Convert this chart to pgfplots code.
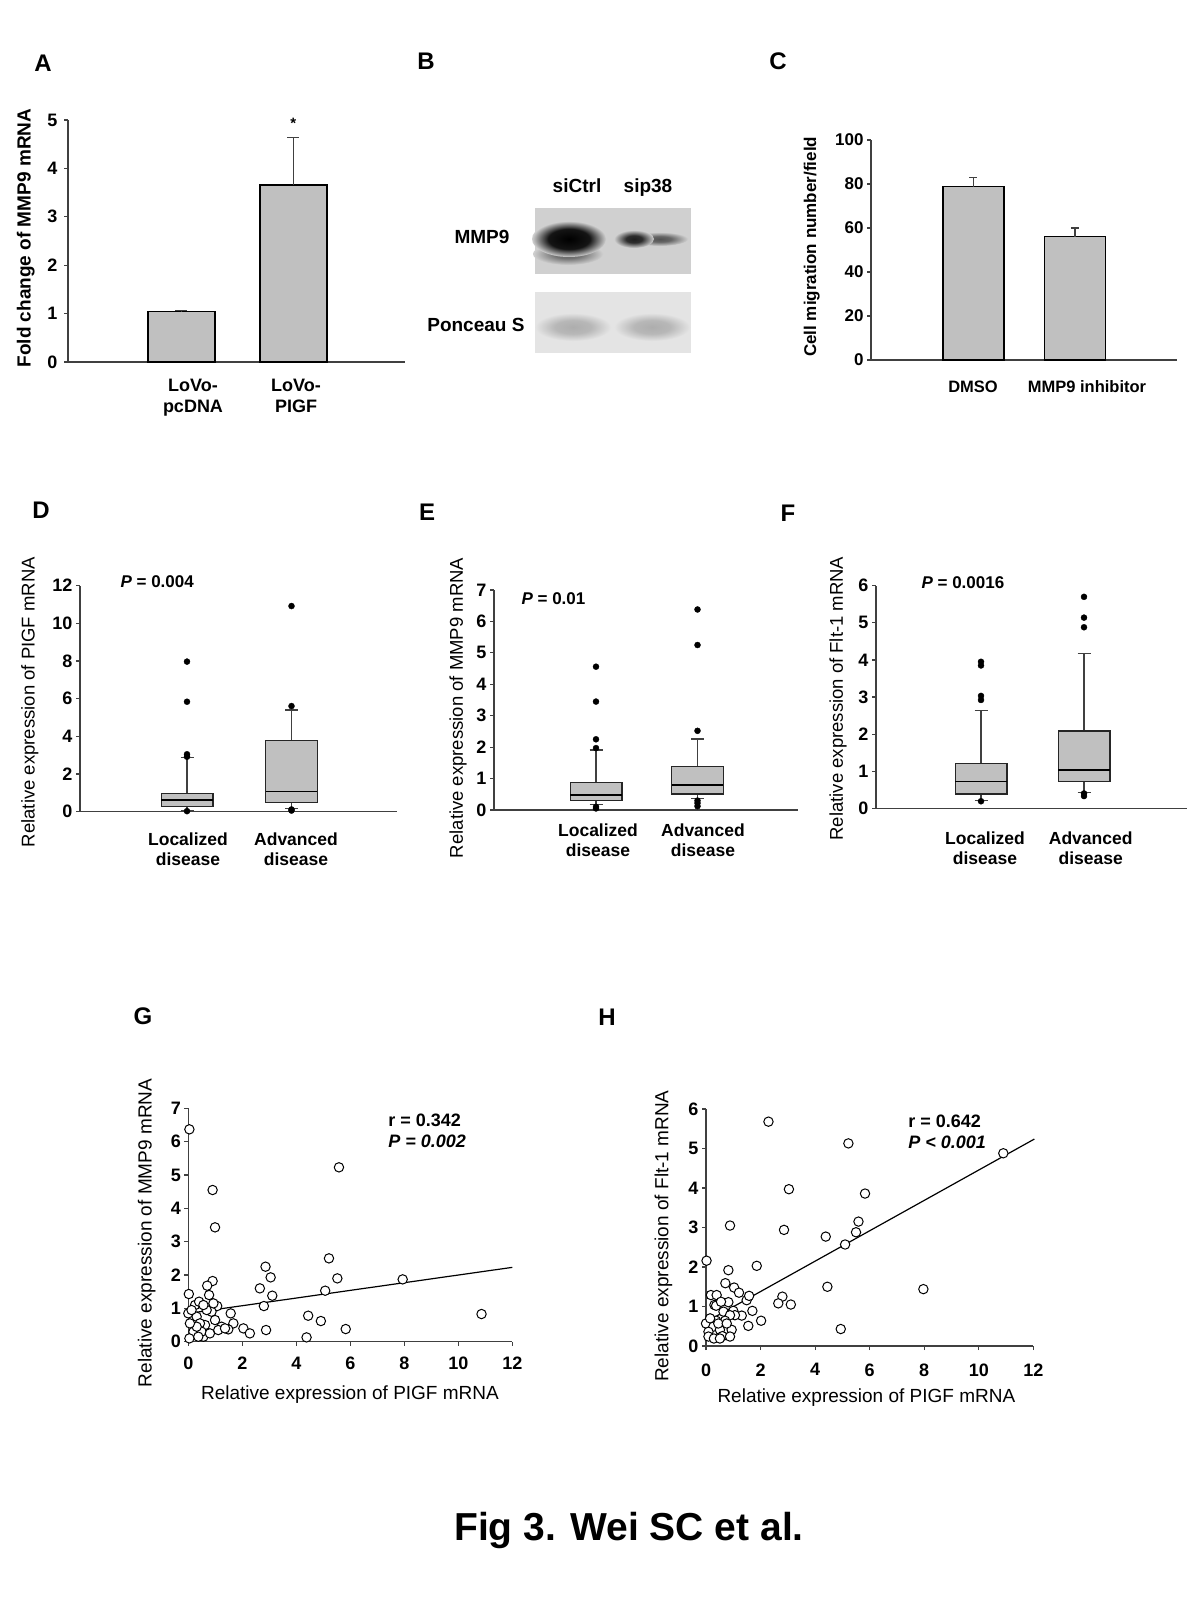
\documentclass[border=0pt]{standalone}
\usepackage{fontspec}
\setmainfont{Liberation Sans}
\usepackage{pgfplots}
\pgfplotsset{compat=1.18}
\definecolor{axisgray}{HTML}{404040}
\definecolor{bargray}{HTML}{C0C0C0}
\definecolor{blotbg}{HTML}{D0D0D0}
\definecolor{ponbg}{HTML}{E4E4E4}
\pgfdeclareradialshading{bandmain}{\pgfpoint{0bp}{0bp}}{color(0bp)=(black); color(14bp)=(black!92); color(25bp)=(blotbg); color(50bp)=(blotbg)}
\pgfdeclareradialshading{bandsmear}{\pgfpoint{0bp}{0bp}}{color(0bp)=(black!62); color(10bp)=(black!55); color(25bp)=(blotbg); color(50bp)=(blotbg)}
\pgfdeclareradialshading{bandright}{\pgfpoint{0bp}{0bp}}{color(0bp)=(black!88); color(10bp)=(black!82); color(25bp)=(blotbg); color(50bp)=(blotbg)}
\pgfdeclareradialshading{bandfade}{\pgfpoint{0bp}{0bp}}{color(0bp)=(black!68); color(10bp)=(black!60); color(25bp)=(blotbg); color(50bp)=(blotbg)}
\pgfdeclareradialshading{bandpon}{\pgfpoint{0bp}{0bp}}{color(0bp)=(black!32); color(12bp)=(black!28); color(25bp)=(ponbg); color(50bp)=(ponbg)}
\newcommand{\fs}[2]{\fontsize{#1}{#2}\selectfont}
\pgfplotsset{
  mystyle/.style={
    scale only axis, anchor=south west, clip=false,
    axis lines=left, axis line style={-, draw=axisgray, line width=1.3pt},
    tick align=outside, major tick length=4pt,
    tick style={draw=axisgray, line width=1.2pt},
    /pgf/number format/assume math mode=true,
    ticklabel style={font=\bfseries\fs{18}{20}},
  },
  catx/.style={x tick style={draw=none}, xticklabel style={align=center, font=\bfseries\fs{17.5}{20}}},
  wh/.style={draw=axisgray, line width=1.2pt},
  bx/.style={draw=black!85, fill=bargray, line width=1.3pt},
  md/.style={draw=black, line width=1.3pt},
  out/.style={only marks, mark=*, mark size=3pt, mark options={fill=black, draw=black}},
}
\begin{document}
\begin{tikzpicture}
\path[use as bounding box] (0pt,0pt) rectangle (1200pt,-1600pt);

% panel letters
\foreach \L/\X/\Y in {A/43/63, B/426/61.5, C/778/61.5, D/41/510, E/427/512, F/788/513, G/143/1016.5, H/607/1017}
  \node[font=\bfseries\fs{24}{26}, inner sep=0pt] at (\X pt,-\Y pt) {\L};

% ---------- A ----------
\begin{axis}[mystyle, catx, at={(68pt,-362pt)}, width=337pt, height=242pt,
  xmin=0, xmax=337, ymin=0, ymax=5, ytick={0,1,...,5},
  yticklabel style={font=\bfseries\fs{18}{20}, xshift=-3pt},
  xtick={125,228}, xticklabels={{LoVo-\\pcDNA},{LoVo-\\PIGF}},
  xticklabel style={font=\bfseries\fs{18}{21}, yshift=-10pt},
  ylabel={Fold change of MMP9 mRNA},
  ylabel style={at={(axis description cs:-0.125,0.512)}, anchor=center, font=\bfseries\fs{19}{21}}]
\addplot[ybar, bar width=67pt, fill=bargray, draw=black, line width=1.5pt,
  error bars/.cd, y dir=plus, y explicit, error mark=-,
  error bar style={line width=1.3pt, draw=axisgray},
  error mark options={rotate=90, mark size=6pt, line width=1.3pt, draw=axisgray}]
  coordinates {(113.3,1.04) +- (0,0.02) (225.3,3.66) +- (0,0.98)};
\node[font=\bfseries\fs{15}{16}] at (axis cs:225.3,4.93) {*};
\end{axis}

% ---------- B ----------
\fill[blotbg] (535pt,-208pt) rectangle (691pt,-274pt);
\shade[shading=bandsmear] (568pt,-254pt) ellipse (35pt and 11pt);
\shade[shading=bandmain] (569pt,-239pt) ellipse (37pt and 18pt);
\shade[shading=bandfade] (660pt,-239pt) ellipse (28pt and 7pt);
\shade[shading=bandright] (634pt,-239pt) ellipse (20pt and 9pt);
\fill[ponbg] (535pt,-292pt) rectangle (691pt,-353pt);
\shade[shading=bandpon] (573pt,-327pt) ellipse (38pt and 14pt);
\shade[shading=bandpon] (652pt,-327pt) ellipse (38pt and 14pt);
\node[anchor=east, font=\bfseries\fs{19}{21}] at (513pt,-237pt) {MMP9};
\node[anchor=east, font=\bfseries\fs{19}{21}] at (528pt,-325pt) {Ponceau S};
\node[anchor=base, font=\bfseries\fs{19}{21}] at (577pt,-192pt) {siCtrl};
\node[anchor=base, font=\bfseries\fs{19}{21}] at (648pt,-192pt) {sip38};

% ---------- C ----------
\begin{axis}[mystyle, catx, at={(871pt,-360pt)}, width=306pt, height=220pt,
  xmin=0, xmax=306, ymin=0, ymax=100, ytick={0,20,...,100},
  yticklabel style={font=\bfseries\fs{17}{19}},
  xtick={102,216}, xticklabels={DMSO,MMP9 inhibitor},
  xticklabel style={font=\bfseries\fs{16.5}{18}, yshift=-13pt},
  ylabel={Cell migration number/field},
  ylabel style={at={(axis description cs:-0.194,0.514)}, anchor=center, font=\bfseries\fs{17}{19}}]
\addplot[ybar, bar width=61pt, fill=bargray, draw=black, line width=1.5pt,
  error bars/.cd, y dir=plus, y explicit, error mark=-,
  error bar style={line width=1.3pt, draw=axisgray},
  error mark options={rotate=90, mark size=4pt, line width=1.3pt, draw=axisgray}]
  coordinates {(102.3,78.8) +- (0,4.1) (203.9,56.1) +- (0,3.9)};
\end{axis}

% ---------- D ----------
\begin{axis}[mystyle, catx, at={(80pt,-811.7pt)}, width=316.7pt, height=226pt,
  xmin=0, xmax=316.7, ymin=0, ymax=12, ytick={0,2,...,12},
  xtick={108,216}, xticklabels={{Localized\\disease},{Advanced\\disease}},
  xticklabel style={yshift=-14pt},
  ylabel={Relative expression of PIGF mRNA},
  ylabel style={at={(axis description cs:-0.158,0.485)}, anchor=center, font=\fs{18.5}{20}}]
% localized
\addplot[wh] coordinates {(107,0.98) (107,2.89)};
\addplot[wh] coordinates {(100.5,2.89) (113.5,2.89)};
\addplot[wh] coordinates {(107,0.27) (107,0.08)};
\addplot[wh] coordinates {(100.5,0.08) (113.5,0.08)};
\addplot[bx] coordinates {(81.15,0.27) (132.85,0.27) (132.85,0.98) (81.15,0.98)} -- cycle;
\addplot[md] coordinates {(81.15,0.62) (132.85,0.62)};
\addplot[out] coordinates {(107,7.97) (107,5.84) (107,3.05) (107,2.92) (107,0.03)};
% advanced
\addplot[wh] coordinates {(211.5,3.77) (211.5,5.4)};
\addplot[wh] coordinates {(205,5.4) (218,5.4)};
\addplot[wh] coordinates {(211.5,0.5) (211.5,0.15)};
\addplot[wh] coordinates {(205,0.15) (218,0.15)};
\addplot[bx] coordinates {(185.65,0.5) (237.35,0.5) (237.35,3.77) (185.65,3.77)} -- cycle;
\addplot[md] coordinates {(185.65,1.06) (237.35,1.06)};
\addplot[out] coordinates {(211.5,10.92) (211.5,5.61) (211.5,0.12) (211.5,0.06)};
\node[anchor=west, font=\bfseries\fs{17}{19}] at (axis cs:37,12.21) {\textit{P} = 0.004};
\end{axis}

% ---------- E ----------
\begin{axis}[mystyle, catx, at={(494pt,-810pt)}, width=304pt, height=220pt,
  xmin=0, xmax=304, ymin=0, ymax=7, ytick={0,1,...,7},
  xtick={104,209}, xticklabels={{Localized\\disease},{Advanced\\disease}},
  xticklabel style={yshift=-6pt},
  ylabel={Relative expression of MMP9 mRNA},
  ylabel style={at={(axis description cs:-0.118,0.464)}, anchor=center, font=\fs{18.5}{20}}]
\addplot[wh] coordinates {(102,0.87) (102,1.91)};
\addplot[wh] coordinates {(95.5,1.91) (108.5,1.91)};
\addplot[wh] coordinates {(102,0.3) (102,0.18)};
\addplot[wh] coordinates {(95.5,0.18) (108.5,0.18)};
\addplot[bx] coordinates {(76.15,0.3) (127.85,0.3) (127.85,0.87) (76.15,0.87)} -- cycle;
\addplot[md] coordinates {(76.15,0.48) (127.85,0.48)};
\addplot[out] coordinates {(102,4.56) (102,3.45) (102,2.25) (102,1.97) (102,0.1) (102,0.05)};
\addplot[wh] coordinates {(203.5,1.38) (203.5,2.26)};
\addplot[wh] coordinates {(197,2.26) (210,2.26)};
\addplot[wh] coordinates {(203.5,0.51) (203.5,0.37)};
\addplot[wh] coordinates {(197,0.37) (210,0.37)};
\addplot[bx] coordinates {(177.65,0.51) (229.35,0.51) (229.35,1.38) (177.65,1.38)} -- cycle;
\addplot[md] coordinates {(177.65,0.8) (229.35,0.8)};
\addplot[out] coordinates {(203.5,6.38) (203.5,5.25) (203.5,2.52) (203.5,0.3) (203.5,0.22) (203.5,0.12)};
\node[anchor=west, font=\bfseries\fs{17}{19}] at (axis cs:24,6.71) {\textit{P} = 0.01};
\end{axis}

% ---------- F ----------
\begin{axis}[mystyle, catx, at={(876pt,-808.3pt)}, width=310.7pt, height=222.6pt,
  xmin=0, xmax=310.7, ymin=0, ymax=6, ytick={0,1,...,6},
  xtick={109,214.7}, xticklabels={{Localized\\disease},{Advanced\\disease}},
  xticklabel style={yshift=-16pt},
  ylabel={Relative expression of Flt-1 mRNA},
  ylabel style={at={(axis description cs:-0.122,0.493)}, anchor=center, font=\fs{18.5}{20}}]
\addplot[wh] coordinates {(105,1.21) (105,2.63)};
\addplot[wh] coordinates {(98.5,2.63) (111.5,2.63)};
\addplot[wh] coordinates {(105,0.385) (105,0.2)};
\addplot[wh] coordinates {(98.5,0.2) (111.5,0.2)};
\addplot[bx] coordinates {(79.15,0.385) (130.85,0.385) (130.85,1.21) (79.15,1.21)} -- cycle;
\addplot[md] coordinates {(79.15,0.72) (130.85,0.72)};
\addplot[out] coordinates {(105,3.95) (105,3.85) (105,3.03) (105,2.92) (105,0.19)};
\addplot[wh] coordinates {(208,2.08) (208,4.18)};
\addplot[wh] coordinates {(201.5,4.18) (214.5,4.18)};
\addplot[wh] coordinates {(208,0.72) (208,0.42)};
\addplot[wh] coordinates {(201.5,0.42) (214.5,0.42)};
\addplot[bx] coordinates {(182.15,0.72) (233.85,0.72) (233.85,2.08) (182.15,2.08)} -- cycle;
\addplot[md] coordinates {(182.15,1.03) (233.85,1.03)};
\addplot[out] coordinates {(208,5.7) (208,5.14) (208,4.88) (208,0.4) (208,0.33)};
\node[anchor=west, font=\bfseries\fs{17}{19}] at (axis cs:42,6.08) {\textit{P} = 0.0016};
\end{axis}

% ---------- G ----------
\begin{axis}[mystyle, at={(188.3pt,-1341.7pt)}, width=324pt, height=233.4pt,
  xmin=0, xmax=12, ymin=0, ymax=7, xtick={0,2,...,12}, ytick={0,1,...,7},
  ticklabel style={font=\bfseries\fs{18}{20}},
  xticklabel style={yshift=-8pt},
  xlabel={Relative expression of PIGF mRNA},
  xlabel style={at={(axis description cs:0.499,-0.228)}, anchor=center, font=\fs{19}{21}},
  ylabel={Relative expression of MMP9 mRNA},
  ylabel style={at={(axis description cs:-0.128,0.466)}, anchor=center, font=\fs{19}{21}}]
\addplot[black, line width=1.2pt] coordinates {(0,0.85) (12,2.23)};
\addplot[only marks, mark=*, mark size=4.7pt, mark options={fill=white, draw=black, line width=1pt}] coordinates {
(0.04,6.37) (0.9,4.55) (0.99,3.43) (5.58,5.23) (5.21,2.5) (5.52,1.9) (5.07,1.53) (7.94,1.87)
(10.86,0.83) (4.44,0.78) (4.91,0.62) (4.38,0.13) (5.83,0.38) (2.86,2.25) (3.05,1.93) (2.65,1.6)
(3.11,1.38) (2.8,1.07) (2.88,0.35) (0.02,1.43) (0.9,1.82) (0.7,1.68) (0.77,1.4) (1.57,0.85)
(1.67,0.55) (2.04,0.4) (2.28,0.25) (1.07,1.07) (0.86,0.9) (0,0.85) (0.25,1.1) (0.4,1.2)
(0.31,0.75) (0.19,0.3) (0.04,0.1) (0.56,0.15) (0.62,0.5) (0.99,0.65) (1.23,0.45) (1.48,0.37)
(0.43,0.55) (0.68,0.95) (0.49,0.3) (0.12,0.95) (0.8,0.25) (1.11,0.35) (0.31,0.45) (0.06,0.55)
(0.93,1.15) (0.56,1.1) (1.36,0.4) (0.37,0.15)};
\node[anchor=west, font=\bfseries\fs{18}{20}] at (axis cs:7.28,6.65) {r = 0.342};
\node[anchor=west, font=\bfseries\itshape\fs{18}{20}] at (axis cs:7.28,6.0) {P = 0.002};
\end{axis}

% ---------- H ----------
\begin{axis}[mystyle, at={(706pt,-1346pt)}, width=327.3pt, height=237pt,
  xmin=0, xmax=12, ymin=0, ymax=6, xtick={0,2,...,12}, ytick={0,1,...,6},
  ticklabel style={font=\bfseries\fs{18}{20}},
  xticklabel style={yshift=-10pt},
  xlabel={Relative expression of PIGF mRNA},
  xlabel style={at={(axis description cs:0.49,-0.219)}, anchor=center, font=\fs{19}{21}},
  ylabel={Relative expression of Flt-1 mRNA},
  ylabel style={at={(axis description cs:-0.130,0.464)}, anchor=center, font=\fs{19}{21}}]
\addplot[black, line width=1.2pt] coordinates {(0,0.61) (12.04,5.24)};
\addplot[only marks, mark=*, mark size=4.7pt, mark options={fill=white, draw=black, line width=1pt}] coordinates {
(2.29,5.68) (5.22,5.13) (10.9,4.88) (3.04,3.97) (5.83,3.86) (5.59,3.15) (5.5,2.88) (2.86,2.94)
(4.39,2.77) (5.1,2.57) (0.88,3.05) (0.02,2.16) (0.82,1.92) (1.86,2.03) (4.45,1.5) (7.97,1.44)
(4.94,0.43) (2.8,1.25) (2.65,1.08) (3.11,1.05) (0.71,1.59) (1.03,1.48) (1.21,1.35) (1.49,1.16)
(1.58,1.27) (1.7,0.89) (1.55,0.51) (2.02,0.64) (1.31,0.77) (0.18,1.29) (0.39,1.29) (0.31,1.04)
(0.37,1.02) (0.82,1.11) (0.64,0.87) (1.0,0.89) (1.06,0.78) (0.88,0.78) (0.7,0.64) (0.37,0.64)
(0,0.57) (0.15,0.7) (0.27,0.49) (0.51,0.41) (0.94,0.41) (0.09,0.36) (0.09,0.24) (0.29,0.19)
(0.6,0.25) (0.88,0.24) (0.45,0.57) (0.76,0.57) (0.55,1.12) (0.51,0.19)};
\node[anchor=west, font=\bfseries\fs{18}{20}] at (axis cs:7.29,5.70) {r = 0.642};
\node[anchor=west, font=\bfseries\itshape\fs{18}{20}] at (axis cs:7.29,5.17) {P < 0.001};
\end{axis}

% title
\node[anchor=base, font=\bfseries\fs{39}{44}] at (629pt,-1540pt) {Fig 3. Wei SC et al.};
\end{tikzpicture}
\end{document}
